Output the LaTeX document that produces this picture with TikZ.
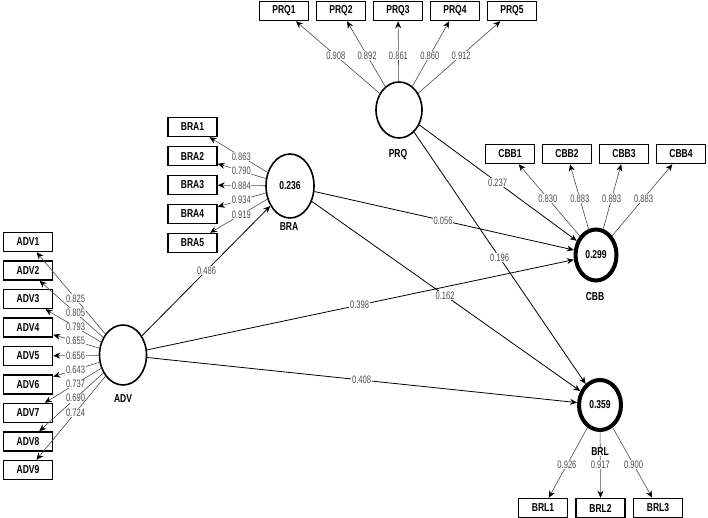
\documentclass[tikz,border=0pt]{standalone}
\usepackage{fontspec}
\setmainfont{Liberation Sans}
\newfontfamily\cf[FakeStretch=0.74]{Liberation Sans}
\newfontfamily\cfl[FakeStretch=0.7]{Liberation Sans}
\usetikzlibrary{arrows.meta,shapes.geometric,calc}
\begin{document}
\begin{tikzpicture}[x=1pt,y=-1pt,
 ind/.style={draw,line width=1.5pt,minimum width=49pt,minimum height=19pt,inner sep=0pt,font=\cf\bfseries\fontsize{11.5}{12}\selectfont},
 lat/.style={draw,ellipse,line width=1.6pt,inner sep=0pt,font=\cf\bfseries\fontsize{11.5}{12}\selectfont},
 endo/.style={lat,line width=4pt},
 lvname/.style={font=\cf\bfseries\fontsize{11.5}{12}\selectfont,fill=white,inner sep=0.5pt},
 load/.style={draw=black!70,line width=0.6pt,-{Stealth[length=7pt,width=6pt,color=black]}},
 struct/.style={draw=black,line width=0.8pt,-{Stealth[length=7pt,width=6pt]}},
 lbl/.style={font=\cfl\fontsize{10.8}{11}\selectfont,text=black!70,fill=white,inner sep=0.6pt}]
\useasboundingbox (0,0) rectangle (708,518);
\fill[white] (0,0) rectangle (708,518);

% latent variables
\node[lat,minimum width=47pt,minimum height=60pt] (ADV) at (123,355) {};
\node[lat,minimum width=48pt,minimum height=64pt] (BRA) at (290,186) {0.236};
\node[lat,minimum width=46pt,minimum height=56pt] (PRQ) at (399,110) {};
\node[endo,minimum width=41pt,minimum height=51pt] (CBB) at (596,255) {0.299};
\node[endo,minimum width=42pt,minimum height=50pt] (BRL) at (600,405) {0.359};

% indicators
\foreach \i in {1,...,9} \node[ind] (ADV\i) at (28,{242+28.5*(\i-1)}) {ADV\i};
\foreach \i in {1,...,5} \node[ind] (BRA\i) at (192.5,{127+29*(\i-1)}) {BRA\i};
\foreach \i in {1,...,5} \node[ind] (PRQ\i) at ({284+57*(\i-1)},11) {PRQ\i};
\foreach \i in {1,...,4} \node[ind] (CBB\i) at ({510+57*(\i-1)},154) {CBB\i};
\foreach \i in {1,...,3} \node[ind] (BRL\i) at ({543+57.5*(\i-1)},508) {BRL\i};

% outer loadings
\foreach \i/\v in {1/0.825,2/0.805,3/0.793,4/0.655,5/0.656,6/0.643,7/0.737,8/0.690,9/0.724}{
  \draw[load] (ADV) -- (ADV\i);
  \path (ADV.center) -- node[lbl,pos=0.5] (lADV\i) {\v} (ADV\i.center);
}
\foreach \i/\v in {1/0.863,2/0.790,3/0.884,4/0.934,5/0.919}{
  \draw[load] (BRA) -- (BRA\i);
  \path (BRA.center) -- node[lbl,pos=0.5] (lBRA\i) {\v} (BRA\i.center);
}
\foreach \i/\v in {1/0.908,2/0.892,3/0.861,4/0.860,5/0.912}{
  \draw[load] (PRQ) -- (PRQ\i);
  \path (PRQ.center) -- node[lbl,pos=0.55] (lPRQ\i) {\v} (PRQ\i.center);
}
\foreach \i/\v in {1/0.830,2/0.883,3/0.893,4/0.883}{
  \draw[load] (CBB) -- (CBB\i);
  \path (CBB.center) -- node[lbl,pos=0.56] (lCBB\i) {\v} (CBB\i.center);
}
\foreach \i/\v in {1/0.926,2/0.917,3/0.900}{
  \draw[load] (BRL) -- (BRL\i);
  \path (BRL.center) -- node[lbl,pos=0.58] (lBRL\i) {\v} (BRL\i.center);
}

% structural paths
\draw[struct] (ADV) -- (BRA);
\path (ADV.center) -- node[lbl] (p1) {0.486} (BRA.center);
\draw[struct] (ADV) -- (CBB);
\path (ADV.center) -- node[lbl] (p2) {0.398} (CBB.center);
\draw[struct] (ADV) -- (BRL);
\path (ADV.center) -- node[lbl] (p3) {0.408} (BRL.center);
\draw[struct] (BRA) -- (CBB);
\path (BRA.center) -- node[lbl] (p4) {0.056} (CBB.center);
\draw[struct] (BRA) -- (BRL);
\path (BRA.center) -- node[lbl] (p5) {0.162} (BRL.center);
\draw[struct] (PRQ) -- (CBB);
\path (PRQ.center) -- node[lbl] (p6) {0.237} (CBB.center);
\draw[struct] (PRQ) -- (BRL);
\path (PRQ.center) -- node[lbl] (p7) {0.196} (BRL.center);

% construct names
\node[lvname] (nADV) at (123,399) {ADV};
\node[lvname] (nBRA) at (289,227) {BRA};
\node[lvname] (nPRQ) at (398,155) {PRQ};
\node[lvname] (nCBB) at (595,297) {CBB};
\node[lvname] (nBRL) at (600,452) {BRL};
\end{tikzpicture}
\end{document}
